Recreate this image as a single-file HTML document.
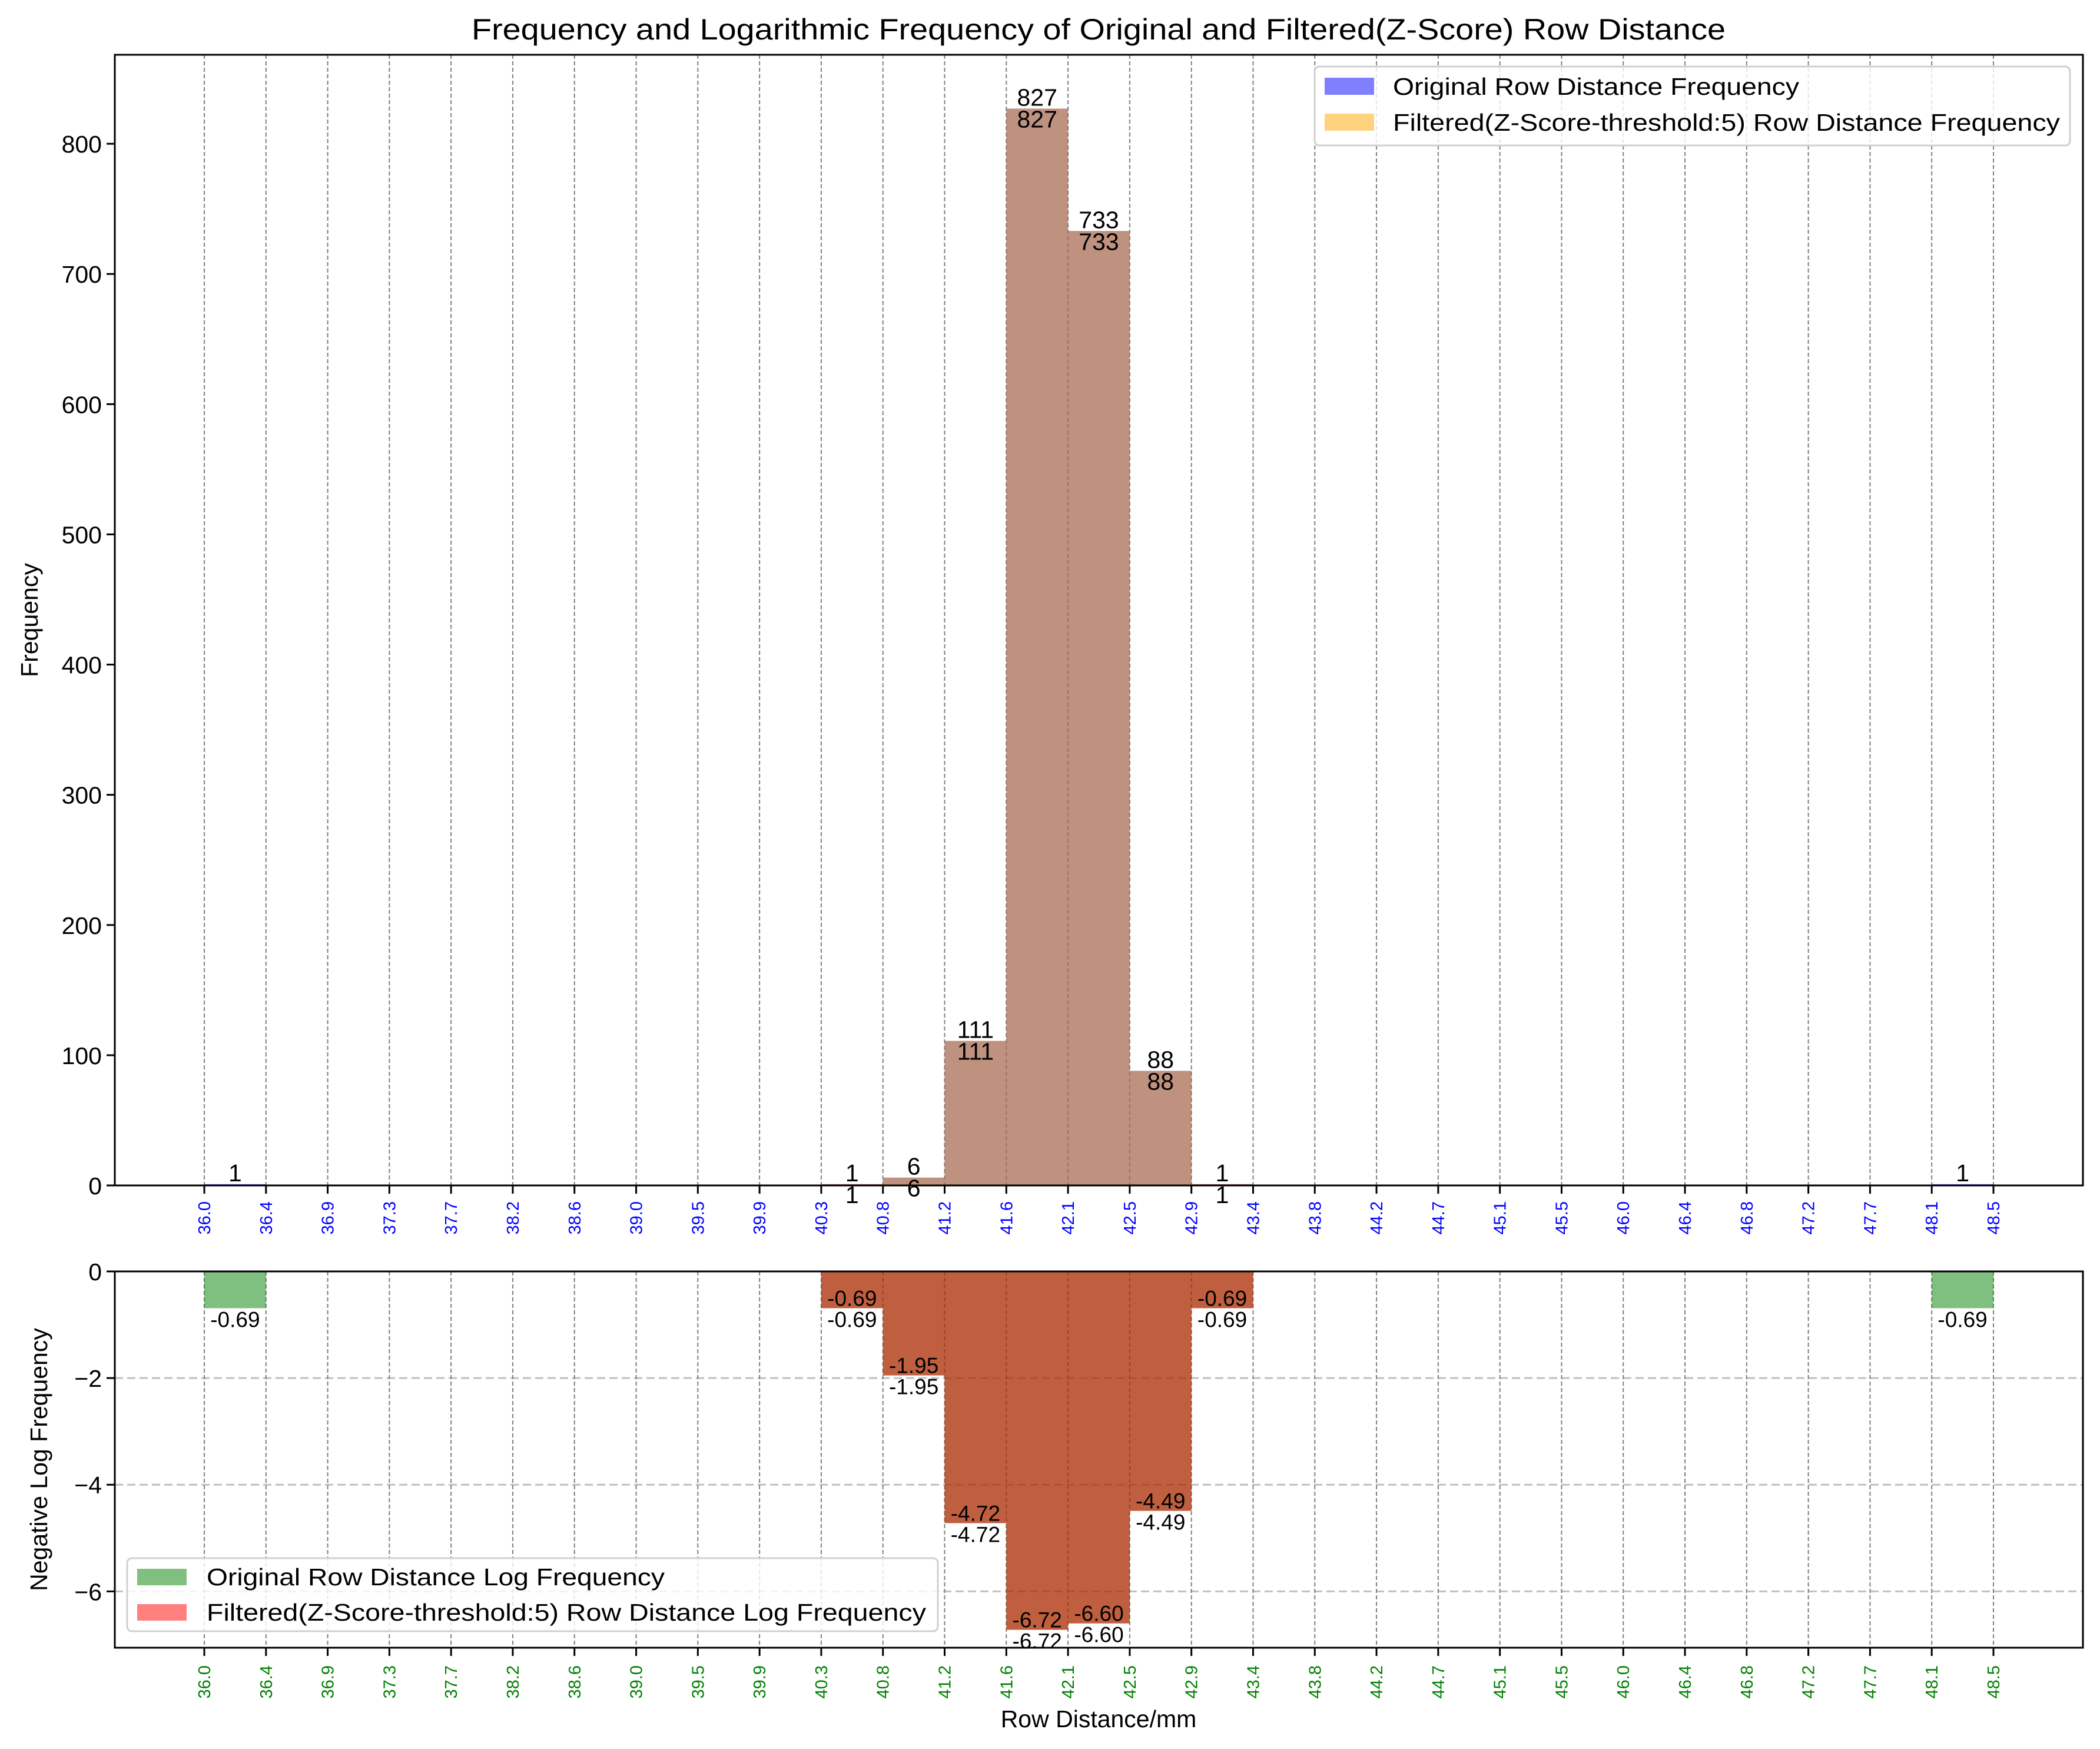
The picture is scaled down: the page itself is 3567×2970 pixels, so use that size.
<!DOCTYPE html>
<html><head><meta charset="utf-8"><style>html,body{margin:0;padding:0;background:#fff}svg{display:block}text{font-family:"Liberation Sans","DejaVu Sans",sans-serif}</style></head>
<body>
<svg id="chart" width="3567" height="2970" viewBox="0 0 3567 2970" xmlns="http://www.w3.org/2000/svg">
<rect width="3567" height="2970" fill="#fff"/>
<text x="1866" y="67" font-size="50" text-anchor="middle" textLength="2130" lengthAdjust="spacingAndGlyphs">Frequency and Logarithmic Frequency of Original and Filtered(Z-Score) Row Distance</text>
<g id="top"></g><g id="bot"></g>
</svg>
<script>
const tickLabels=["36.0","36.4","36.9","37.3","37.7","38.2","38.6","39.0","39.5","39.9","40.3","40.8","41.2","41.6","42.1","42.5","42.9","43.4","43.8","44.2","44.7","45.1","45.5","46.0","46.4","46.8","47.2","47.7","48.1","48.5"];
const origCounts=[1,0,0,0,0,0,0,0,0,0,1,6,111,827,733,88,1,0,0,0,0,0,0,0,0,0,0,0,1];
const filtCounts=[0,0,0,0,0,0,0,0,0,0,1,6,111,827,733,88,1,0,0,0,0,0,0,0,0,0,0,0,0];
const origLog=[-0.69,0,0,0,0,0,0,0,0,0,-0.69,-1.95,-4.72,-6.72,-6.60,-4.49,-0.69,0,0,0,0,0,0,0,0,0,0,0,-0.69];
const filtLog=[0,0,0,0,0,0,0,0,0,0,-0.69,-1.95,-4.72,-6.72,-6.60,-4.49,-0.69,0,0,0,0,0,0,0,0,0,0,0,0];
const yTicksTop=[0,100,200,300,400,500,600,700,800];
const yTicksBot=[0,-2,-4,-6];

const NS="http://www.w3.org/2000/svg";
function mk(p,t,a,txt){const e=document.createElementNS(NS,t);for(const k in a)e.setAttribute(k,a[k]);if(txt!==undefined)e.textContent=txt;p.appendChild(e);return e;}
const L=195,R=3538,nb=tickLabels.length-1;
const x0=347,x1=3386;
function xs(i){return x0+(x1-x0)*i/nb;}
const topG=document.getElementById('top'),botG=document.getElementById('bot');
const tT=93,tB=2013,tMax=868.35;
function yt(v){return tB-(tB-tT)*v/tMax;}
const bT=2159,bB=2798,bMin=-7.056;
function yb(v){return bT+(bB-bT)*v/bMin;}

function xaxis(g,yBase,yTop,color,labY,nm){
  tickLabels.forEach((lab,i)=>{
    const x=xs(i);
    const gl=mk(g,'line',{x1:x,x2:x,y1:yTop,y2:yBase,stroke:'#808080','stroke-width':2,'stroke-dasharray':'7,4'});
    
    
    const tk=mk(g,'line',{x1:x,x2:x,y1:yBase,y2:yBase+14,stroke:'#000','stroke-width':3});
    
    
    const t=mk(g,'text',{x:0,y:0,'font-size':29,fill:color,'text-anchor':'end',transform:`translate(${x+10},${labY}) rotate(-90)`},lab);
    
    
  });
}
// TOP
xaxis(topG,tB,tT,'#0000ff',2040,'x-tick-label-top');
origCounts.forEach((v,i)=>{
  if(v<=0)return;
  const r=mk(topG,'rect',{x:xs(i),y:yt(v),width:xs(i+1)-xs(i),height:Math.max(tB-yt(v),2),fill:'#0000ff','fill-opacity':0.5});
  
  
});
filtCounts.forEach((v,i)=>{
  if(v<=0)return;
  const r=mk(topG,'rect',{x:xs(i),y:yt(v),width:xs(i+1)-xs(i),height:Math.max(tB-yt(v),2),fill:'#ffa500','fill-opacity':0.5});
  
  
});
origCounts.forEach((v,i)=>{
  if(v<=0)return;
  const c=(xs(i)+xs(i+1))/2;
  const t=mk(topG,'text',{x:c,y:yt(v)-5,'font-size':41,'text-anchor':'middle'},String(v));
  
  
});
filtCounts.forEach((v,i)=>{
  if(v<=0)return;
  const c=(xs(i)+xs(i+1))/2;
  const t=mk(topG,'text',{x:c,y:yt(v)+32,'font-size':41,'text-anchor':'middle'},String(v));
  
  
});
yTicksTop.forEach(v=>{
  const y=yt(v);
  const tk=mk(topG,'line',{x1:L-14,x2:L,y1:y,y2:y,stroke:'#000','stroke-width':3});
  
  
  const t=mk(topG,'text',{x:L-22,y:y+15,'font-size':41,'text-anchor':'end'},String(v));
  
  
});
const fr=mk(topG,'rect',{x:L,y:tT,width:R-L,height:tB-tT,fill:'none',stroke:'#000','stroke-width':3});


const yl=mk(topG,'text',{x:0,y:0,'font-size':41,'text-anchor':'middle',transform:`translate(64,${(tT+tB)/2}) rotate(-90)`},'Frequency');


const lg=mk(topG,'g',{});


mk(lg,'rect',{x:2233,y:113,width:1283,height:134,rx:8,fill:'#fff','fill-opacity':0.8,stroke:'#d0d0d0','stroke-width':3});
const le1=mk(lg,'rect',{x:2250,y:132,width:84,height:29,fill:'#0000ff','fill-opacity':0.5});


const lt1=mk(lg,'text',{x:2366,y:161,'font-size':41,textLength:690,lengthAdjust:'spacingAndGlyphs'},'Original Row Distance Frequency');


const le2=mk(lg,'rect',{x:2250,y:193,width:84,height:29,fill:'#ffa500','fill-opacity':0.5});


const lt2=mk(lg,'text',{x:2366,y:222,'font-size':41,textLength:1133,lengthAdjust:'spacingAndGlyphs'},'Filtered(Z-Score-threshold:5) Row Distance Frequency');



// BOTTOM
yTicksBot.forEach(v=>{
  if(v===0)return;
  const y=yb(v);
  const g=mk(botG,'line',{x1:L,x2:R,y1:y,y2:y,stroke:'#c0c0c0','stroke-width':3,'stroke-dasharray':'14,7'});
  
  
});
xaxis(botG,bB,bT,'#008000',2828,'x-tick-label-bottom');
origLog.forEach((v,i)=>{
  if(v===0)return;
  const r=mk(botG,'rect',{x:xs(i),y:bT,width:xs(i+1)-xs(i),height:yb(v)-bT,fill:'#008000','fill-opacity':0.5});
  
  
});
filtLog.forEach((v,i)=>{
  if(v===0)return;
  const r=mk(botG,'rect',{x:xs(i),y:bT,width:xs(i+1)-xs(i),height:yb(v)-bT,fill:'#ff0000','fill-opacity':0.5});
  
  
});
origLog.forEach((v,i)=>{
  if(v===0)return;
  const c=(xs(i)+xs(i+1))/2;
  const t=mk(botG,'text',{x:c,y:yb(v)+32,'font-size':37,'text-anchor':'middle'},v.toFixed(2));
  
  
});
filtLog.forEach((v,i)=>{
  if(v===0)return;
  const c=(xs(i)+xs(i+1))/2;
  const t=mk(botG,'text',{x:c,y:yb(v)-4,'font-size':37,'text-anchor':'middle'},v.toFixed(2));
  
  
});
yTicksBot.forEach(v=>{
  const y=yb(v);
  const tk=mk(botG,'line',{x1:L-14,x2:L,y1:y,y2:y,stroke:'#000','stroke-width':3});
  
  
  const t=mk(botG,'text',{x:L-22,y:y+15,'font-size':41,'text-anchor':'end'},v===0?'0':'\u2212'+Math.abs(v));
  
  
});
const fr2=mk(botG,'rect',{x:L,y:bT,width:R-L,height:bB-bT,fill:'none',stroke:'#000','stroke-width':3});


const yl2=mk(botG,'text',{x:0,y:0,'font-size':41,'text-anchor':'middle',transform:`translate(80,${(bT+bB)/2}) rotate(-90)`},'Negative Log Frequency');


const xl=mk(botG,'text',{x:1866,y:2933,'font-size':41,'text-anchor':'middle'},'Row Distance/mm');


const lg2=mk(botG,'g',{});


mk(lg2,'rect',{x:216,y:2646,width:1377,height:124,rx:8,fill:'#fff','fill-opacity':0.8,stroke:'#d0d0d0','stroke-width':3});
const s1=mk(lg2,'rect',{x:233,y:2664,width:84,height:28,fill:'#008000','fill-opacity':0.5});


const s1t=mk(lg2,'text',{x:351,y:2692,'font-size':41,textLength:778,lengthAdjust:'spacingAndGlyphs'},'Original Row Distance Log Frequency');


const s2=mk(lg2,'rect',{x:233,y:2724,width:84,height:28,fill:'#ff0000','fill-opacity':0.5});


const s2t=mk(lg2,'text',{x:351,y:2752,'font-size':41,textLength:1222,lengthAdjust:'spacingAndGlyphs'},'Filtered(Z-Score-threshold:5) Row Distance Log Frequency');


</script>
</body></html>
